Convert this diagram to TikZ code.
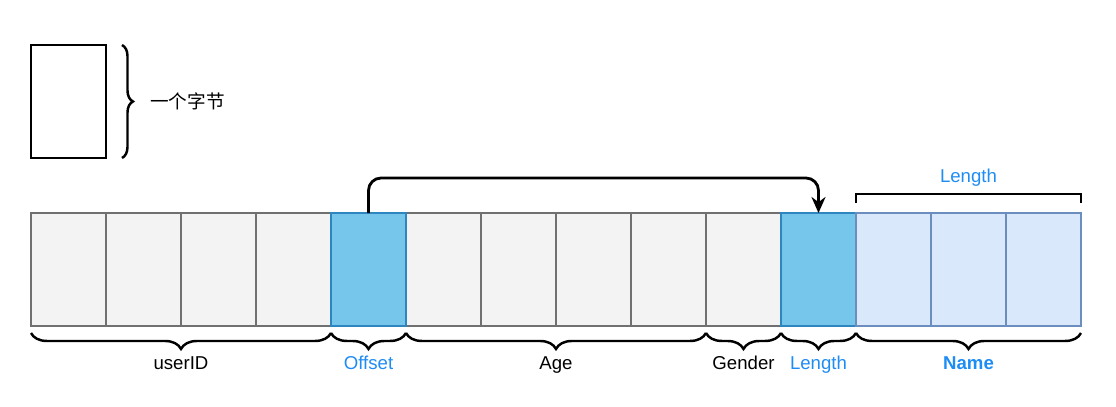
\documentclass[tikz,border=0pt]{standalone}
\usepackage{fontspec}
\setmainfont{Liberation Sans}
\newfontfamily\cjkfont{Noto Sans CJK SC}
\usetikzlibrary{arrows.meta, positioning, decorations.pathreplacing}
\definecolor{cellgray}{RGB}{243, 243, 243}
\definecolor{edgegray}{RGB}{112, 112, 112}
\definecolor{skyfill}{RGB}{118, 197, 235}
\definecolor{skyedge}{RGB}{46, 134, 193}
\definecolor{namefill}{RGB}{218, 232, 252}
\definecolor{nameedge}{RGB}{108, 142, 191}
\definecolor{labelblue}{RGB}{30, 140, 245}

\begin{document}
\begin{tikzpicture}[
      x=0.02cm, y=0.02cm,
      cellbase/.style={rectangle, minimum width=1.5cm, minimum height=2.26cm, inner sep=0pt, outer sep=0pt, line width=1.5pt},
      gcell/.style={cellbase, draw=edgegray, fill=cellgray},
      bcell/.style={cellbase, draw=skyedge, fill=skyfill},
      ncell/.style={cellbase, draw=nameedge, fill=namefill},
      brc/.style={decorate, decoration={brace, amplitude=0.32cm}, line width=1.4pt},
      lbl/.style={font=\fontsize{10.6}{12}\selectfont, anchor=base},
      blbl/.style={lbl, text=labelblue}
    ]
      \useasboundingbox (0,0) rectangle (1116,-406);

      % one byte legend
      \node[cellbase, draw=black, fill=white] (byte) at (68.5,-101.5) {};
      \draw[brc, decoration={amplitude=0.22cm}] ([xshift=0.32cm]byte.north east) -- ([xshift=0.32cm]byte.south east);
      \node[font=\fontsize{10.6}{12}\selectfont, anchor=west] (bytetxt) at (144,-101.5) {\cjkfont 一个字节};

      % the cells
      \foreach \i/\s in {0/gcell,1/gcell,2/gcell,3/gcell,5/gcell,6/gcell,7/gcell,8/gcell,9/gcell,
                         4/bcell,10/bcell,11/ncell,12/ncell,13/ncell} {
        \node[\s] (c\i) at ({68.5+75*\i},-269.5) {};
      }

      % offset points to length
      \draw[line width=1.6pt, rounded corners=0.25cm, -{Stealth[length=0.32cm, width=0.28cm]}]
        (c4.north) -- ++(0,35) -| (c10.north);

      % length bracket on top
      \draw[line width=1.6pt] ([yshift=0.2cm]c11.north west) -- ([yshift=0.38cm]c11.north west)
        -- ([yshift=0.38cm]c13.north east) -- ([yshift=0.2cm]c13.north east);
      \node[blbl] (toplen) at (968.5,-182) {Length};

      % braces below
      \draw[brc] ([yshift=-0.14cm]c3.south east) -- ([yshift=-0.14cm]c0.south west);
      \draw[brc] ([yshift=-0.14cm]c4.south east) -- ([yshift=-0.14cm]c4.south west);
      \draw[brc] ([yshift=-0.14cm]c8.south east) -- ([yshift=-0.14cm]c5.south west);
      \draw[brc] ([yshift=-0.14cm]c9.south east) -- ([yshift=-0.14cm]c9.south west);
      \draw[brc] ([yshift=-0.14cm]c10.south east) -- ([yshift=-0.14cm]c10.south west);
      \draw[brc] ([yshift=-0.14cm]c13.south east) -- ([yshift=-0.14cm]c11.south west);

      \node[lbl] (luser) at (181,-369) {userID};
      \node[blbl] (loff) at (368.5,-369) {Offset};
      \node[lbl] (lage) at (556,-369) {Age};
      \node[lbl] (lgen) at (743.5,-369) {Gender};
      \node[blbl] (llen) at (818.5,-369) {Length};
      \node[blbl, font=\fontsize{10.6}{12}\selectfont\bfseries] (lname) at (968.5,-369) {Name};
    \end{tikzpicture}
\end{document}
